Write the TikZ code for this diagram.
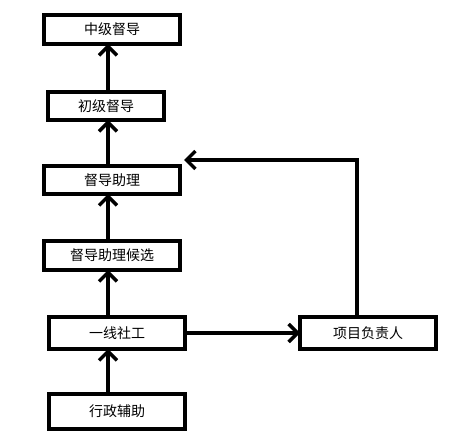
\documentclass[tikz,border=0pt]{standalone}
\usepackage{fontspec}
\newfontfamily\cjk{Noto Sans CJK SC}
\usetikzlibrary{arrows.meta}
\tikzset{
  box/.style={draw=black, line width=3.6pt, fill=white, inner sep=0pt, outer sep=0pt,
    font=\cjk\fontsize{14pt}{16pt}\selectfont},
  arr/.style={line width=3.6pt, -{Straight Barb[length=9pt,width=18pt,line width=3.4pt]}},
}
\begin{document}
\begin{tikzpicture}[x=1pt,y=-1pt]
\useasboundingbox (0,0) rectangle (460,438);
\node[box, minimum width=136pt, minimum height=29pt] (b1) at (112,29.5) {中级督导};
\node[box, minimum width=116pt, minimum height=28pt] (b2) at (106,106) {初级督导};
\node[box, minimum width=136pt, minimum height=28pt] (b3) at (112,180) {督导助理};
\node[box, minimum width=136pt, minimum height=29pt] (b4) at (112,255.5) {督导助理候选};
\node[box, minimum width=136pt, minimum height=32pt] (b5) at (117,333) {一线社工};
\node[box, minimum width=136pt, minimum height=32pt] (b6) at (368,333) {项目负责人};
\node[box, minimum width=136pt, minimum height=35pt] (b7) at (117,411.5) {行政辅助};
\coordinate (ax) at (108,0);
\coordinate (fx) at (357,0);
\coordinate (fy) at (0,160);
\coordinate (tip) at (184,160);
\draw[arr] (ax |- b7.north) -- (ax |- b5.south);
\draw[arr] (ax |- b5.north) -- (ax |- b4.south);
\draw[arr] (ax |- b4.north) -- (ax |- b3.south);
\draw[arr] (ax |- b3.north) -- (ax |- b2.south);
\draw[arr] (ax |- b2.north) -- (ax |- b1.south);
\draw[arr] (b5.east) -- (b6.west);
\draw[arr] (fx |- b6.north) -- (fx |- fy) -- (tip);
\end{tikzpicture}
\end{document}
